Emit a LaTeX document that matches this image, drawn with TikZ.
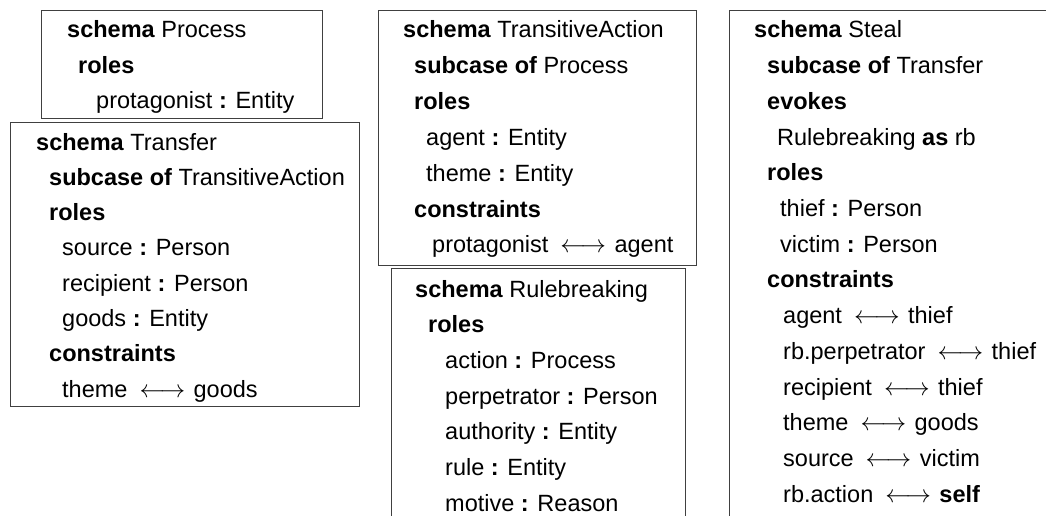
\documentclass[tikz,border=0pt]{standalone}
\usepackage{fontspec}
\setmainfont{Liberation Sans}
\newcommand\rarr{\hspace{12pt}$\longleftrightarrow$\hspace{8.5pt}}
\newcommand\cln{ \textbf{:} }
\begin{document}
\begin{tikzpicture}[x=1pt,y=-1pt,
  txt/.style={anchor=base west,inner sep=0pt,font=\fontsize{23.5}{28}\selectfont},
  box/.style={draw=black!75,line width=1pt}]
\useasboundingbox (0,0) rectangle (1046,516);
\clip (0,0) rectangle (1046,516);
% Process
\draw[box] (41,11) rectangle (322,119);
\node[txt] (p1) at (67,38) {\textbf{schema} Process};
\node[txt] (p2) at (78,73.5) {\textbf{roles}};
\node[txt] (p3) at (96,109) {protagonist\cln Entity};
% Transfer
\draw[box] (10,123) rectangle (359,406);
\node[txt] (t1) at (36,150) {\textbf{schema} Transfer};
\node[txt] (t2) at (49,185.3) {\textbf{subcase of} TransitiveAction};
\node[txt] (t3) at (49,220.6) {\textbf{roles}};
\node[txt] (t4) at (62,255.9) {source\cln Person};
\node[txt] (t5) at (62,291.2) {recipient\cln Person};
\node[txt] (t6) at (62,326.5) {goods\cln Entity};
\node[txt] (t7) at (49,361.8) {\textbf{constraints}};
\node[txt] (t8) at (62,397.1) {theme\rarr goods};
% TransitiveAction
\draw[box] (378,11) rectangle (696,265);
\node[txt] (a1) at (403,38) {\textbf{schema} TransitiveAction};
\node[txt] (a2) at (414,73.8) {\textbf{subcase of} Process};
\node[txt] (a3) at (414,109.6) {\textbf{roles}};
\node[txt] (a4) at (426,145.4) {agent\cln Entity};
\node[txt] (a5) at (426,181.2) {theme\cln Entity};
\node[txt] (a6) at (414,217) {\textbf{constraints}};
\node[txt] (a7) at (432,252.8) {protagonist\rarr agent};
% Rulebreaking
\draw[box] (391,268) rectangle (685,600);
\node[txt] (r1) at (415,297) {\textbf{schema} Rulebreaking};
\node[txt] (r2) at (428,332.7) {\textbf{roles}};
\node[txt] (r3) at (445,368.4) {action\cln Process};
\node[txt] (r4) at (445,404.1) {perpetrator\cln Person};
\node[txt] (r5) at (445,439.8) {authority\cln Entity};
\node[txt] (r6) at (445,475.5) {rule\cln Entity};
\node[txt] (r7) at (445,511.2) {motive\cln Reason};
% Steal
\draw[box] (729,11) rectangle (1100,600);
\node[txt] (s1) at (754,38) {\textbf{schema} Steal};
\node[txt] (s2) at (767,73.7) {\textbf{subcase of} Transfer};
\node[txt] (s3) at (767,109.4) {\textbf{evokes}};
\node[txt] (s4) at (777,145.1) {Rulebreaking \textbf{as} rb};
\node[txt] (s5) at (767,180.8) {\textbf{roles}};
\node[txt] (s6) at (780,216.5) {thief\cln Person};
\node[txt] (s7) at (780,252.2) {victim\cln Person};
\node[txt] (s8) at (767,287.9) {\textbf{constraints}};
\node[txt] (s9) at (783,323.6) {agent\rarr thief};
\node[txt] (s10) at (783,359.3) {rb.perpetrator\rarr thief};
\node[txt] (s11) at (783,395) {recipient\rarr thief};
\node[txt] (s12) at (783,430.7) {theme\rarr goods};
\node[txt] (s13) at (783,466.4) {source\rarr victim};
\node[txt] (s14) at (783,502.1) {rb.action\rarr \textbf{self}};
\end{tikzpicture}
\end{document}
